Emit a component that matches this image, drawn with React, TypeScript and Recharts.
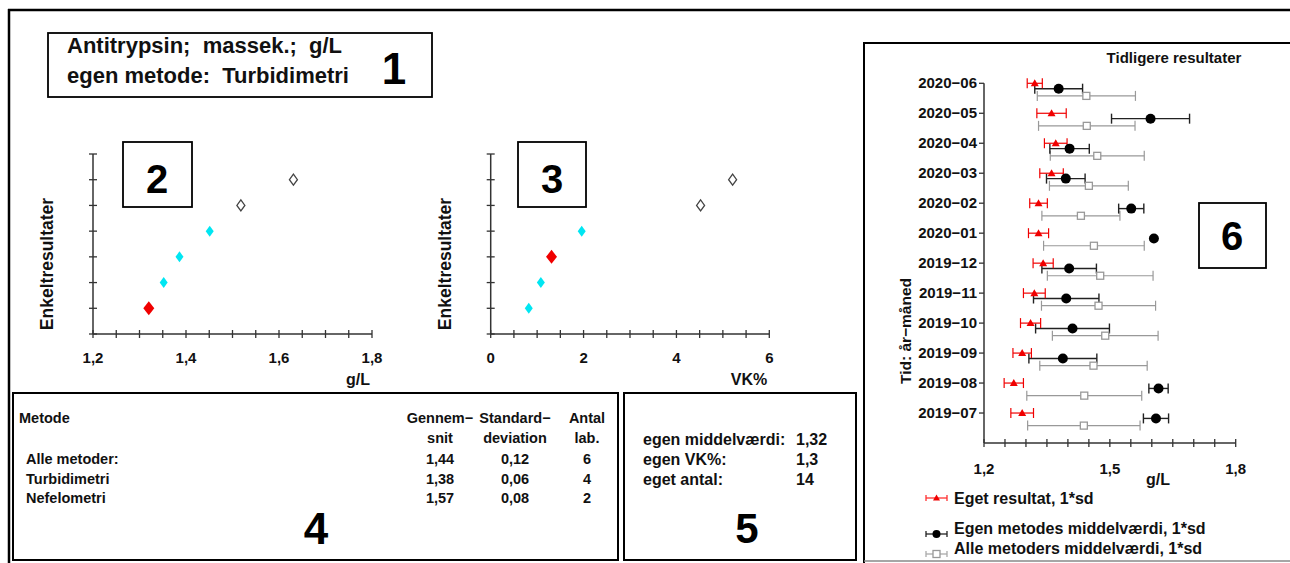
import React from "react";
import { ScatterChart, Scatter, XAxis, YAxis, ErrorBar } from "recharts";

const FONT = '"Liberation Sans", Arial, Helvetica, sans-serif';
const AXIS = "#333";
const RED = "#f00000";
const CYAN = "#00e6f2";
const GRAY = "#999";

// panel 2 and 3: single results, ranked from the bottom
const singleGL = [1.32, 1.352, 1.386, 1.451, 1.518, 1.631];
const singleGLGroup = ["own", "method", "method", "method", "other", "other"];
const singleVK = [0.82, 1.08, 1.31, 1.96, 4.52, 5.21];
const singleVKGroup = ["method", "method", "own", "method", "other", "other"];

const glTicks = [1.2, 1.25, 1.3, 1.35, 1.4, 1.45, 1.5, 1.55, 1.6, 1.65, 1.7, 1.75, 1.8];
const glLabels = [1.2, 1.4, 1.6, 1.8];
const vkTicks = [0, 0.5, 1, 1.5, 2, 2.5, 3, 3.5, 4, 4.5, 5, 5.5, 6];
const vkLabels = [0, 2, 4, 6];
const rankTicks = [0, 1, 2, 3, 4, 5, 6, 7];

// panel 4 and 5: summary
const methodNames = ["Alle metoder:", "Turbidimetri", "Nefelometri"];
const methodMeans = ["1,44", "1,38", "1,57"];
const methodSds = ["0,12", "0,06", "0,08"];
const methodLabs = ["6", "4", "2"];
const ownLabels = ["egen middelværdi:", "egen VK%:", "eget antal:"];
const ownValues = ["1,32", "1,3", "14"];

// panel 6: earlier rounds, newest on top
const months = ["2020−06", "2020−05", "2020−04", "2020−03", "2020−02", "2020−01", "2019−12", "2019−11", "2019−10", "2019−09", "2019−08", "2019−07"];
const ownMean = [1.321, 1.361, 1.371, 1.361, 1.33, 1.33, 1.341, 1.32, 1.311, 1.291, 1.271, 1.291];
const ownSd = [0.018, 0.035, 0.027, 0.028, 0.021, 0.024, 0.024, 0.026, 0.024, 0.022, 0.023, 0.027];
const methodMean = [1.378, 1.597, 1.404, 1.395, 1.551, 1.605, 1.403, 1.396, 1.411, 1.388, 1.616, 1.61];
const methodSd = [0.057, 0.093, 0.047, 0.046, 0.03, 0, 0.065, 0.078, 0.088, 0.081, 0.023, 0.03];
const allMean = [1.444, 1.445, 1.47, 1.45, 1.431, 1.462, 1.477, 1.473, 1.489, 1.461, 1.439, 1.438];
const allSd = [0.117, 0.115, 0.112, 0.094, 0.093, 0.12, 0.126, 0.136, 0.126, 0.128, 0.137, 0.134];
const histTicks = [1.2, 1.25, 1.3, 1.35, 1.4, 1.45, 1.5, 1.55, 1.6, 1.65, 1.7, 1.75, 1.8];
const histLabels = [1.2, 1.5, 1.8];
const monthTicks = months.map((_, i) => i);

const rankRows = (vals: number[], groups: string[], g: string) =>
  vals.map((x, i) => ({ x, y: i + 1, g: groups[i] })).filter((d) => d.g === g);

const histRows = (mean: number[], sd: number[], off: number) =>
  mean.map((x, i) => ({ x, y: i + off, sd: sd[i] }));

const comma = (v: number) => (Number.isInteger(v) ? String(v) : v.toFixed(1).replace(".", ","));

const xTick = (labels: number[], dy: number, fs: number) => (p: any) => {
  const v = p.payload.value;
  const show = labels.some((l) => Math.abs(l - v) < 1e-9);
  return (
    <g>
      <line x1={p.x} x2={p.x} y1={p.y - 4} y2={p.y + 4} stroke={AXIS} strokeWidth={1.3} />
      {show && (
        <text x={p.x} y={p.y + dy} textAnchor="middle" fontSize={fs} fontWeight="bold" fontFamily={FONT} fill="#111">
          {comma(v)}
        </text>
      )}
    </g>
  );
};

const yCrossTick = (p: any) => (
  <line x1={p.x - 4} x2={p.x + 4} y1={p.y} y2={p.y} stroke={AXIS} strokeWidth={1.3} />
);

const monthTick = (p: any) => (
  <g>
    <line x1={p.x - 5} x2={p.x} y1={p.y} y2={p.y} stroke={AXIS} strokeWidth={1.3} />
    <text x={p.x - 7} y={p.y + 5} textAnchor="end" fontSize={15} fontWeight="bold" fontFamily={FONT} fill="#111">
      {months[p.payload.value]}
    </text>
  </g>
);

const diamond = (w: number, h: number, fill: string, stroke?: string) => (p: any) => (
  <path
    d={`M${p.cx},${p.cy - h / 2} L${p.cx + w / 2},${p.cy} L${p.cx},${p.cy + h / 2} L${p.cx - w / 2},${p.cy} Z`}
    fill={fill}
    stroke={stroke || "none"}
    strokeWidth={1.3}
  />
);

const triangle = (p: any) => (
  <path d={`M${p.cx},${p.cy - 4} L${p.cx + 4},${p.cy + 3} L${p.cx - 4},${p.cy + 3} Z`} fill={RED} />
);
const dot = (p: any) => <circle cx={p.cx} cy={p.cy} r={5} fill="#000" />;
const square = (p: any) => (
  <rect x={p.cx - 3.5} y={p.cy - 3.5} width={7} height={7} fill="#fff" stroke={GRAY} strokeWidth={1.3} />
);

function RankChart({ vals, groups, ticks, labels, domain, left, marginLeft, marginRight }: any) {
  return (
    <div style={{ position: "absolute", left, top: 0 }}>
      <ScatterChart width={420} height={400} margin={{ top: 154, right: marginRight, bottom: 36, left: marginLeft }}>
        <XAxis
          type="number"
          dataKey="x"
          domain={domain}
          ticks={ticks}
          interval={0}
          tickSize={0}
          tickMargin={0}
          height={30}
          tick={xTick(labels, 29, 15)}
          axisLine={{ stroke: AXIS, strokeWidth: 1.5 }}
          allowDataOverflow
        />
        <YAxis
          type="number"
          dataKey="y"
          domain={[0, 7]}
          ticks={rankTicks}
          interval={0}
          width={20}
          tickSize={0}
          tickMargin={0}
          tick={yCrossTick}
          axisLine={{ stroke: AXIS, strokeWidth: 1.5 }}
        />
        <Scatter data={rankRows(vals, groups, "other")} shape={diamond(8, 11, "#fff", "#444")} isAnimationActive={false} />
        <Scatter data={rankRows(vals, groups, "method")} shape={diamond(8, 11, CYAN)} isAnimationActive={false} />
        <Scatter data={rankRows(vals, groups, "own")} shape={diamond(11, 14, RED)} isAnimationActive={false} />
      </ScatterChart>
    </div>
  );
}

function HistoryChart() {
  return (
    <div style={{ position: "absolute", left: 862, top: 43 }}>
      <ScatterChart width={428} height={520} margin={{ top: 40.3, right: 54.3, bottom: 80, left: 32 }}>
        <XAxis
          type="number"
          dataKey="x"
          domain={[1.2, 1.8]}
          ticks={histTicks}
          interval={0}
          tickSize={0}
          tickMargin={0}
          height={40}
          tick={xTick(histLabels, 31, 15)}
          axisLine={{ stroke: AXIS, strokeWidth: 1.5 }}
          allowDataOverflow
        />
        <YAxis
          type="number"
          dataKey="y"
          domain={[0, 12]}
          reversed
          ticks={monthTicks}
          interval={0}
          width={90}
          tickSize={0}
          tickMargin={0}
          tick={monthTick}
          axisLine={{ stroke: AXIS, strokeWidth: 1.5 }}
        />
        <Scatter data={histRows(allMean, allSd, 0.42)} shape={square} isAnimationActive={false}>
          <ErrorBar dataKey="sd" direction="x" width={5} stroke={GRAY} strokeWidth={1.2} isAnimationActive={false} />
        </Scatter>
        <Scatter data={histRows(methodMean, methodSd, 0.18)} shape={dot} isAnimationActive={false}>
          <ErrorBar dataKey="sd" direction="x" width={5} stroke="#222" strokeWidth={1.4} isAnimationActive={false} />
        </Scatter>
        <Scatter data={histRows(ownMean, ownSd, 0)} shape={triangle} isAnimationActive={false}>
          <ErrorBar dataKey="sd" direction="x" width={5} stroke={RED} strokeWidth={1.2} isAnimationActive={false} />
        </Scatter>
      </ScatterChart>
    </div>
  );
}

const T = (props: any) => <text fontFamily={FONT} fontWeight="bold" fill="#111" {...props} />;

function LegendIcon({ y, color, children }: any) {
  return (
    <g>
      <line x1={926} x2={947} y1={y} y2={y} stroke={color} strokeWidth={1.3} />
      <line x1={926} x2={926} y1={y - 3} y2={y + 3} stroke={color} strokeWidth={1.3} />
      <line x1={947} x2={947} y1={y - 3} y2={y + 3} stroke={color} strokeWidth={1.3} />
      {children}
    </g>
  );
}

export default function App() {
  const colMean = 440;
  const colSd = 515;
  const colLab = 587;
  return (
    <div style={{ position: "absolute", left: 0, top: 0, width: 1290, height: 563, background: "#fff", overflow: "hidden" }}>
      <RankChart vals={singleGL} groups={singleGLGroup} ticks={glTicks} labels={glLabels} domain={[1.2, 1.8]} left={0} marginLeft={73} marginRight={48} />
      <RankChart vals={singleVK} groups={singleVKGroup} ticks={vkTicks} labels={vkLabels} domain={[0, 6]} left={400} marginLeft={70.7} marginRight={50.7} />
      <HistoryChart />
      <svg width={1290} height={563} style={{ position: "absolute", left: 0, top: 0, pointerEvents: "none" }}>
        {/* frames */}
        <line x1={8} x2={1290} y1={10} y2={10} stroke="#000" strokeWidth={2.5} />
        <line x1={9} x2={9} y1={9} y2={563} stroke="#000" strokeWidth={2.5} />
        <rect x={48} y={33} width={384} height={64} fill="none" stroke="#000" strokeWidth={1.8} />
        <rect x={123} y={142} width={69} height={65} fill="none" stroke="#000" strokeWidth={1.8} />
        <rect x={518} y={142} width={68} height={65} fill="none" stroke="#000" strokeWidth={1.8} />
        <rect x={13} y={393} width={605} height={167} fill="none" stroke="#000" strokeWidth={2} />
        <rect x={624} y={393} width={232} height={167} fill="none" stroke="#000" strokeWidth={2} />
        <line x1={864} x2={1290} y1={43} y2={43} stroke="#000" strokeWidth={2} />
        <line x1={864} x2={864} y1={42} y2={563} stroke="#000" strokeWidth={2} />
        <line x1={864} x2={1290} y1={561} y2={561} stroke="#888" strokeWidth={1.5} />
        <rect x={1199} y={203} width={67} height={65} fill="none" stroke="#000" strokeWidth={1.8} />

        {/* panel 1 */}
        <T x={67} y={53} fontSize={22} style={{ whiteSpace: "pre" }}>Antitrypsin;  massek.;  g/L</T>
        <T x={67} y={83} fontSize={22} style={{ whiteSpace: "pre" }}>egen metode:  Turbidimetri</T>
        <T x={394} y={84} fontSize={44} textAnchor="middle" fill="#000">1</T>

        {/* panel 2 and 3 labels */}
        <T x={157} y={193} fontSize={40} textAnchor="middle" fill="#000">2</T>
        <T x={552} y={193} fontSize={40} textAnchor="middle" fill="#000">3</T>
        <T x={0} y={0} fontSize={17.5} textAnchor="middle" transform="translate(53,264) rotate(-90)">Enkeltresultater</T>
        <T x={0} y={0} fontSize={17.5} textAnchor="middle" transform="translate(451,264) rotate(-90)">Enkeltresultater</T>
        <T x={358} y={385} fontSize={16} textAnchor="middle">g/L</T>
        <T x={749} y={385} fontSize={16} textAnchor="middle">VK%</T>

        {/* panel 4 */}
        <T x={19} y={423} fontSize={14.5}>Metode</T>
        <T x={colMean} y={423} fontSize={14.5} textAnchor="middle">Gennem−</T>
        <T x={colMean} y={443} fontSize={14.5} textAnchor="middle">snit</T>
        <T x={colSd} y={423} fontSize={14.5} textAnchor="middle">Standard−</T>
        <T x={colSd} y={443} fontSize={14.5} textAnchor="middle">deviation</T>
        <T x={colLab} y={423} fontSize={14.5} textAnchor="middle">Antal</T>
        <T x={colLab} y={443} fontSize={14.5} textAnchor="middle">lab.</T>
        {methodNames.map((n, i) => (
          <g key={n}>
            <T x={26} y={464 + i * 19.5} fontSize={14.5}>{n}</T>
            <T x={colMean} y={464 + i * 19.5} fontSize={14.5} textAnchor="middle">{methodMeans[i]}</T>
            <T x={colSd} y={464 + i * 19.5} fontSize={14.5} textAnchor="middle">{methodSds[i]}</T>
            <T x={colLab} y={464 + i * 19.5} fontSize={14.5} textAnchor="middle">{methodLabs[i]}</T>
          </g>
        ))}
        <T x={316} y={544} fontSize={44} textAnchor="middle" fill="#000">4</T>

        {/* panel 5 */}
        {ownLabels.map((n, i) => (
          <g key={n}>
            <T x={643} y={444.5 + i * 20} fontSize={16}>{n}</T>
            <T x={796} y={444.5 + i * 20} fontSize={16}>{ownValues[i]}</T>
          </g>
        ))}
        <T x={747} y={543} fontSize={42} textAnchor="middle" fill="#000">5</T>

        {/* panel 6 */}
        <T x={1174} y={63} fontSize={15} textAnchor="middle">Tidligere resultater</T>
        <T x={1232} y={250} fontSize={40} textAnchor="middle" fill="#000">6</T>
        <T x={0} y={0} fontSize={15.5} textAnchor="middle" transform="translate(911,331) rotate(-90)">Tid: år−måned</T>
        <T x={1158} y={485} fontSize={16} textAnchor="middle">g/L</T>
        <LegendIcon y={498} color="#ff3030">
          <path d="M936.5,494.5 L940,500.5 L933,500.5 Z" fill={RED} />
        </LegendIcon>
        <T x={954} y={503.5} fontSize={16}>Eget resultat, 1*sd</T>
        <LegendIcon y={534} color="#222">
          <circle cx={936.5} cy={534} r={4} fill="#000" />
        </LegendIcon>
        <T x={954} y={533.5} fontSize={16}>Egen metodes middelværdi, 1*sd</T>
        <LegendIcon y={554} color="#aaa">
          <rect x={933} y={550.5} width={7} height={7} fill="#fff" stroke={GRAY} strokeWidth={1.3} />
        </LegendIcon>
        <T x={954} y={553.5} fontSize={16}>Alle metoders middelværdi, 1*sd</T>
      </svg>
    </div>
  );
}
